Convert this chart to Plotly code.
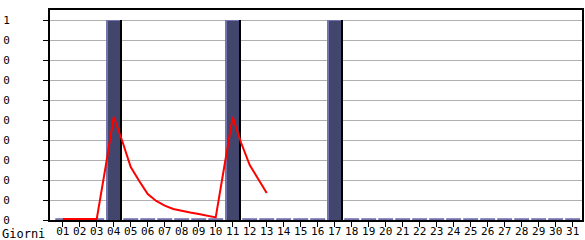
import plotly.graph_objects as go

# ---- data ----
days = list(range(1, 32))
day_labels = [f"{d:02d}" for d in days]

bar_days = [4, 11, 17]
bar_values = [1.0, 1.0, 1.0]

line_t = [1, 1.5, 2, 2.5, 3, 3.5, 4, 4.5, 5, 5.5, 6, 6.5, 7, 7.5, 8, 8.5, 9, 9.5,
          10, 10.5, 11, 11.5, 12, 12.5, 13]
line_v = [0, 0, 0, 0, 0, 0.25, 0.51, 0.39, 0.26, 0.19, 0.125, 0.09, 0.067, 0.05,
          0.04, 0.032, 0.025, 0.016, 0.008, 0.26, 0.51, 0.38, 0.27, 0.2, 0.13]

y_ticks = [0, 0.1, 0.2, 0.3, 0.4, 0.5, 0.6, 0.7, 0.8, 0.9, 1.0]
y_ticktext = ["0", "0", "0", "0", "0", "0", "0", "0", "0", "0", "1"]

# ---- styles ----
DARK = "rgb(66,70,108)"
LIGHT = "rgb(116,116,176)"
BW = 0.94

fig = go.Figure()

# zero-height bars for the other days (drawn as short segments)
zx, zy = [], []
for d in days:
    if d not in bar_days:
        zx += [d - 0.44, d + 0.44, None]
        zy += [0.004, 0.004, None]
fig.add_trace(go.Scatter(x=zx, y=zy, mode="lines", line=dict(color=LIGHT, width=2),
                         hoverinfo="skip", cliponaxis=False))

# bar shadow (black right edge)
fig.add_trace(go.Bar(x=bar_days, y=bar_values, width=BW, offset=-BW / 2,
                     marker=dict(color="black", line=dict(width=0))))
# light edge
fig.add_trace(go.Bar(x=bar_days, y=bar_values, width=BW - 0.12, offset=-BW / 2,
                     marker=dict(color=LIGHT, line=dict(width=0))))
# dark face
fig.add_trace(go.Bar(x=bar_days, y=[v - 0.005 for v in bar_values], width=BW - 0.24,
                     offset=-BW / 2 + 0.12, marker=dict(color=DARK, line=dict(width=0))))

fig.add_trace(go.Scatter(x=line_t, y=[v + 0.005 for v in line_v], mode="lines",
                         line=dict(color="#ff0000", width=2), hoverinfo="skip",
                         cliponaxis=False))

fig.update_layout(
    width=585, height=240,
    margin=dict(l=50, r=3, t=10, b=20),
    paper_bgcolor="white", plot_bgcolor="white",
    showlegend=False, barmode="overlay", bargap=0,
    font=dict(family="DejaVu Sans Mono", size=11, color="black"),
)
fig.update_xaxes(
    range=[0.25, 31.55], tickvals=days, ticktext=day_labels,
    showgrid=False, zeroline=False, automargin=False,
    showline=True, linecolor="black", linewidth=2, mirror=True,
    ticks="outside", ticklen=5, tickcolor="black", tickwidth=1,
    tickfont=dict(size=11), ticklabelstandoff=-5, fixedrange=True, layer="below traces",
)
fig.update_yaxes(
    range=[0, 1.05], tickvals=y_ticks, ticktext=y_ticktext,
    showgrid=True, gridcolor="#b0b0b0", gridwidth=1, zeroline=False, automargin=False,
    showline=True, linecolor="black", linewidth=2, mirror=True,
    ticks="outside", ticklen=5, tickcolor="black", tickwidth=1,
    tickfont=dict(size=11), ticklabelstandoff=31, fixedrange=True, layer="below traces",
)
fig.add_annotation(text="Giorni", xref="paper", yref="paper",
                   x=-50 / 532, y=-13.5 / 210, xanchor="left", yanchor="middle",
                   showarrow=False, font=dict(size=12, family="DejaVu Sans Mono"))

fig.write_html("out.html")
